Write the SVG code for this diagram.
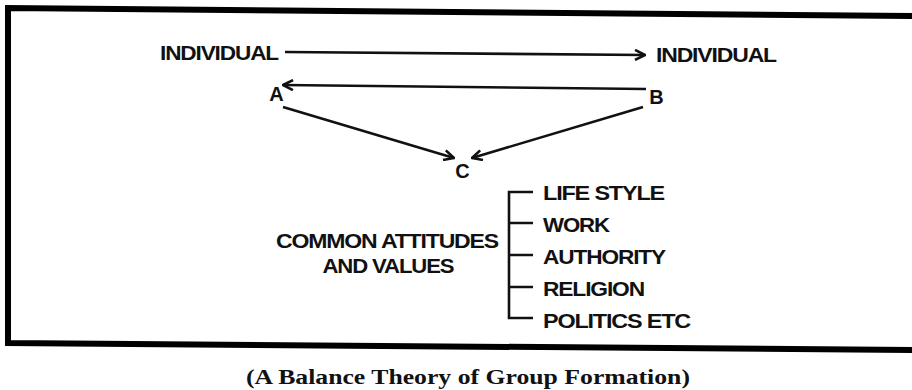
<svg xmlns="http://www.w3.org/2000/svg" width="912" height="390" viewBox="0 0 912 390">
<defs>
<style>
.t{font-family:"Liberation Sans",Arial,sans-serif;font-weight:bold;font-size:20px;fill:#111;letter-spacing:-1px}
.c{font-family:"Liberation Serif","Times New Roman",serif;font-weight:bold;font-size:20px;fill:#111}
.ln{stroke:#111;stroke-width:2.6;fill:none}
.frame{stroke:#000;stroke-width:6;fill:none}
</style>
<marker id="ah" viewBox="0 0 12 12" refX="11" refY="6" markerWidth="12" markerHeight="12" markerUnits="userSpaceOnUse" orient="auto">
<path d="M1,1 L11,6 L1,11" fill="none" stroke="#111" stroke-width="2.6"/>
</marker>
</defs>
<g id="frame">
<path class="frame" d="M912,16 L8,8 L8,343 L912,350"/>
</g>
<g id="individual-left"><text class="t" x="160" y="60" textLength="118" lengthAdjust="spacingAndGlyphs">INDIVIDUAL</text></g>
<g id="individual-right"><text class="t" x="656" y="62" textLength="120" lengthAdjust="spacingAndGlyphs">INDIVIDUAL</text></g>
<g id="node-a"><text class="t" x="276" y="101" text-anchor="middle">A</text></g>
<g id="node-b"><text class="t" x="656" y="104" text-anchor="middle">B</text></g>
<g id="node-c"><text class="t" x="462" y="178" text-anchor="middle">C</text></g>
<g id="attitudes">
<text class="t" x="387" y="248" text-anchor="middle" textLength="222" lengthAdjust="spacingAndGlyphs">COMMON ATTITUDES</text>
<text class="t" x="388" y="273" text-anchor="middle" textLength="131" lengthAdjust="spacingAndGlyphs">AND VALUES</text>
</g>
<g id="items">
<text class="t" x="543" y="200" textLength="121" lengthAdjust="spacingAndGlyphs">LIFE STYLE</text>
<text class="t" x="543" y="232" textLength="66" lengthAdjust="spacingAndGlyphs">WORK</text>
<text class="t" x="543" y="264" textLength="122" lengthAdjust="spacingAndGlyphs">AUTHORITY</text>
<text class="t" x="543" y="296" textLength="101" lengthAdjust="spacingAndGlyphs">RELIGION</text>
<text class="t" x="543" y="328" textLength="147" lengthAdjust="spacingAndGlyphs">POLITICS ETC</text>
</g>
<g id="connectors">
<line class="ln" x1="285" y1="52" x2="645" y2="55" marker-end="url(#ah)"/>
<line class="ln" x1="646" y1="89" x2="283" y2="85" marker-end="url(#ah)"/>
<line class="ln" x1="283" y1="107" x2="454" y2="158" marker-end="url(#ah)"/>
<line class="ln" x1="643" y1="107" x2="472" y2="158" marker-end="url(#ah)"/>
<path class="ln" d="M533,192 L509,192 L509,318 L533,318 M509,223 L533,223 M509,255 L533,255 M509,287 L533,287"/>
</g>
<g id="caption"><text class="c" x="468" y="384" text-anchor="middle" textLength="444" lengthAdjust="spacingAndGlyphs">(A Balance Theory of Group Formation)</text></g>
</svg>
